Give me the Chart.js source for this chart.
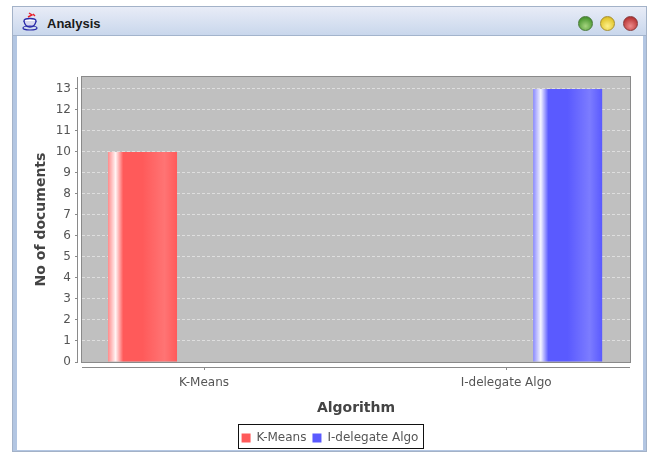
<!DOCTYPE html>
<html>
<head>
<meta charset="utf-8">
<title>Analysis</title>
<script src="https://cdn.jsdelivr.net/npm/chart.js@4"></script>
<style>
html, body { margin: 0; padding: 0; background: #fff; overflow: hidden; }
#frame { position: absolute; left: 12px; top: 6px; width: 635px; height: 446px; box-sizing: border-box; background: #b3c6e2; border: 1px solid #a3b2c8; }
#titlebar { position: absolute; left: 0; top: 0; right: 0; height: 28px; background: linear-gradient(#e8ecf7, #c9d7ec); border-bottom: 1px solid #a3b4cc; }
#titletext { position: absolute; left: 34px; top: 9px; font: bold 13px "Liberation Sans", sans-serif; color: #1a1a1a; }
#icon { position: absolute; left: 9px; top: 5px; }
.btn { position: absolute; top: 9px; width: 15px; height: 15px; border-radius: 50%; box-sizing: border-box; }
#content { position: absolute; left: 17px; top: 36px; width: 626px; height: 414px; background: #fff; }
</style>
</head>
<body>
<div id="frame">
  <div id="titlebar">
    <svg id="icon" width="18" height="19" viewBox="0 0 18 19">
      <path d="M7 1 L10 3 L6 5 M11 2 L13 4" stroke="#e8202a" stroke-width="1.4" fill="none"/>
      <ellipse cx="8" cy="9" rx="6" ry="2.5" fill="#fff" stroke="#2a2aa8" stroke-width="1.3"/>
      <path d="M2 9 Q3 15 8 15 Q13 15 14 9" fill="#d8d8f0" stroke="#2a2aa8" stroke-width="1.3"/>
      <ellipse cx="8" cy="16" rx="7" ry="2" fill="none" stroke="#2a2aa8" stroke-width="1.2"/>
    </svg>
    <div id="titletext">Analysis</div>
    <div class="btn" style="left:565px;background:radial-gradient(circle at 50% 70%,#a5d47f,#4f9a34 70%,#3e7a2a);border:1px solid #4a7a3a"></div>
    <div class="btn" style="left:587px;background:radial-gradient(circle at 50% 70%,#fdf08a,#e2c62e 70%,#b89c1e);border:1px solid #a89030"></div>
    <div class="btn" style="left:610px;background:radial-gradient(circle at 50% 70%,#ee8a8a,#bb3a3a 70%,#942c2c);border:1px solid #8a3a3a"></div>
  </div>
</div>
<div id="content"><canvas id="analysisChart" width="626" height="414"></canvas></div>

<script>
// Dati del grafico
const categories = ['K-Means', 'I-delegate Algo'];
const kMeansValues = [10, null];
const iDelegateValues = [null, 13];
const yTickValues = [0, 1, 2, 3, 4, 5, 6, 7, 8, 9, 10, 11, 12, 13];

const axisColor = '#8a8a8a';
const textColor = '#555555';
const seriesColors = ['#ff5a5a', '#5a5aff'];
const seriesShades = [['#ff8a8a', '#fff4f4', '#ff7474'], ['#8a8aff', '#f4f4ff', '#7c7cff']];
const categoryPct = 0.8146;
const barPct = 0.561;

// Gradiente orizzontale di ogni barra, calcolato dalla scala x
function barGradient(context) {
    const i = context.datasetIndex;
    if (context.type !== 'data') return seriesColors[i];
    const x = context.chart.scales.x;
    const chunk = (x.getPixelForValue(1) - x.getPixelForValue(0)) * categoryPct / 2;
    const width = chunk * barPct;
    const center = x.getPixelForValue(context.parsed.x) + (i - 0.5) * chunk;
    const gradient = context.chart.ctx.createLinearGradient(center - width / 2, 0, center + width / 2, 0);
    gradient.addColorStop(0, seriesShades[i][0]);
    gradient.addColorStop(0.11, seriesShades[i][1]);
    gradient.addColorStop(0.22, seriesColors[i]);
    gradient.addColorStop(0.5, seriesColors[i]);
    gradient.addColorStop(0.82, seriesShades[i][2]);
    gradient.addColorStop(1, seriesColors[i]);
    return gradient;
}

// Sfondo del grafico e assi staccati dall'area dati, come in JFreeChart
const plotFrame = {
    id: 'plotFrame',
    beforeDraw(chart) {
        const { ctx, chartArea: a } = chart;
        ctx.fillStyle = '#c0c0c0';
        ctx.fillRect(a.left, a.top, a.width, a.height);
    },
    afterDraw(chart) {
        const { ctx, chartArea: a, legend } = chart;
        ctx.save();
        // copre i tick tra area dati e asse
        ctx.fillStyle = '#fff';
        ctx.fillRect(a.left - 4, a.top - 1, 3, a.height + 2);
        ctx.fillRect(a.left - 1, a.bottom + 1, a.width + 2, 4);
        ctx.strokeStyle = axisColor;
        ctx.lineWidth = 1;
        ctx.strokeRect(a.left - 0.5, a.top - 0.5, a.width + 1, a.height + 1);
        ctx.beginPath();
        ctx.moveTo(a.left - 4.5, a.top);
        ctx.lineTo(a.left - 4.5, a.bottom);
        ctx.moveTo(a.left, a.bottom + 5.5);
        ctx.lineTo(a.right, a.bottom + 5.5);
        ctx.stroke();
        // bordo della legenda, attorno alle sole voci
        const boxes = legend.legendHitBoxes;
        const first = boxes[0];
        const last = boxes[boxes.length - 1];
        const left = first.left - 4;
        const right = last.left + last.width + 4;
        ctx.strokeStyle = '#111';
        ctx.strokeRect(Math.round(left) + 0.5, 388.5, Math.round(right - left), 24);
        ctx.restore();
    }
};

const analysisChart = new Chart(document.getElementById('analysisChart'), {
    type: 'bar',
    data: {
        datasets: [
            { label: categories[0], data: kMeansValues.map((v, i) => ({ x: i, y: v })), backgroundColor: barGradient },
            { label: categories[1], data: iDelegateValues.map((v, i) => ({ x: i, y: v })), backgroundColor: barGradient }
        ]
    },
    options: {
        responsive: false,
        animation: false,
        categoryPercentage: categoryPct,
        barPercentage: barPct,
        layout: { padding: { left: 13, right: 13, top: 41, bottom: -4 } },
        scales: {
            x: {
                type: 'linear',
                offset: false,
                min: -0.404,
                max: 1.41,
                afterBuildTicks: scale => { scale.ticks = categories.map((c, i) => ({ value: i })); },
                afterFit: scale => { scale.height = 64; },
                ticks: {
                    callback: value => categories[value],
                    color: textColor,
                    font: { family: 'DejaVu Sans', size: 12 },
                    padding: 6,
                    maxRotation: 0
                },
                grid: { offset: false, drawOnChartArea: false, tickColor: axisColor, tickLength: 8 },
                border: { display: false },
                title: {
                    display: true,
                    text: 'Algorithm',
                    color: '#444',
                    font: { family: 'DejaVu Sans', size: 14, weight: 'bold' },
                    padding: { top: 6, bottom: 9 }
                }
            },
            y: {
                min: 0,
                max: 13.57,
                afterBuildTicks: scale => { scale.ticks = yTickValues.map(v => ({ value: v })); },
                afterFit: scale => { scale.width = 52; },
                ticks: {
                    color: textColor,
                    font: { family: 'DejaVu Sans', size: 12 },
                    padding: 4
                },
                grid: {
                    color: '#dedede',
                    lineWidth: 1,
                    tickColor: axisColor,
                    tickLength: 7,
                    tickBorderDash: []
                },
                border: { display: false, dash: [3, 2] },
                title: {
                    display: true,
                    text: 'No of documents',
                    color: '#444',
                    font: { family: 'DejaVu Sans', size: 14, weight: 'bold' },
                    padding: { top: 3, bottom: 0 }
                }
            }
        },
        plugins: {
            tooltip: { enabled: false },
            legend: {
                position: 'bottom',
                labels: {
                    color: textColor,
                    font: { family: 'DejaVu Sans', size: 12 },
                    boxWidth: 9,
                    boxHeight: 9,
                    padding: 6,
                    generateLabels: chart => chart.data.datasets.map((ds, i) => ({
                        text: ds.label,
                        fillStyle: seriesColors[i],
                        strokeStyle: 'transparent',
                        lineWidth: 0,
                        fontColor: textColor,
                        datasetIndex: i
                    }))
                }
            }
        }
    },
    plugins: [plotFrame]
});
</script>
</body>
</html>
